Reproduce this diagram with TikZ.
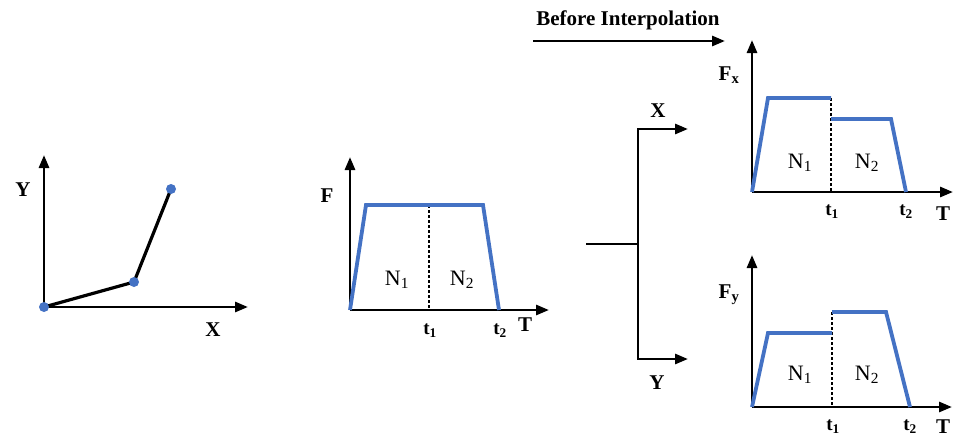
\documentclass[tikz,border=0pt]{standalone}
\usepackage{fontspec}
\setmainfont{Liberation Serif}
\usetikzlibrary{arrows.meta}
\definecolor{curveblue}{RGB}{68,114,196}
\begin{document}
\begin{tikzpicture}[x=1pt,y=-1pt,
  axis/.style={line width=2.8pt,line join=miter,-{Triangle[length=13pt,width=10pt]}},
  plain/.style={line width=2.8pt},
  curve/.style={line width=3.8pt,curveblue,line join=miter},
  lbl/.style={font=\fontsize{21}{23}\selectfont\bfseries,inner sep=0pt},
  nlbl/.style={font=\fontsize{22}{24}\selectfont,inner sep=0pt},
  tlbl/.style={font=\fontsize{19}{21}\selectfont\bfseries,inner sep=0pt},
  ttl/.style={font=\fontsize{21}{23}\selectfont\bfseries,inner sep=0pt},
  dot/.style={circle,fill=curveblue,inner sep=0pt,minimum size=10pt},
  divider/.style={line width=1.3pt,dash pattern=on 3pt off 2pt}]
\useasboundingbox (0,0) rectangle (955,437);

% ---- left plot
\coordinate (o1) at (44,307);
\coordinate (y1) at (44,155);
\coordinate (x1) at (248,307);
\draw[axis] (o1) -- (y1);
\draw[axis] (o1) -- (x1);
\coordinate (p0) at (44,307);
\coordinate (p1) at (134,282);
\coordinate (p2) at (171,189);
\draw[line width=3.2pt] (p0) -- (p1) -- (p2);
\node[dot] (d0) at (p0) {};
\node[dot] (d1) at (p1) {};
\node[dot] (d2) at (p2) {};
\node[lbl] (ly1) at (23,190) {Y};
\node[lbl] (lx1) at (213,330) {X};

% ---- middle plot
\coordinate (o2) at (350,310);
\coordinate (y2) at (350,157);
\coordinate (x2) at (549,310);
\draw[axis] (o2) -- (y2);
\draw[axis] (o2) -- (x2);
\coordinate (m1) at (366,205);
\coordinate (m2) at (483,205);
\coordinate (m3) at (499,310);
\coordinate (mt) at (429,205);
\coordinate (mb) at (429,310);
\draw[divider] (mt) -- (mb);
\draw[curve] (o2) -- (m1) -- (m2) -- (m3);
\node[lbl] (lf2) at (327,196) {F};
\node[nlbl] (n21) at (397,280) {N\textsubscript{1}};
\node[nlbl] (n22) at (462,280) {N\textsubscript{2}};
\node[tlbl] (t21) at (430,331) {t\textsubscript{1}};
\node[tlbl] (t22) at (500,331) {t\textsubscript{2}};
\node[lbl] (lt2) at (525,325) {T};

% ---- title arrow
\node[ttl] (title) at (628,20) {Before Interpolation};
\coordinate (ta) at (533,41);
\coordinate (tb) at (725,41);
\draw[axis] (ta) -- (tb);

% ---- split connector
\coordinate (s0) at (586,244);
\coordinate (s1) at (638,244);
\coordinate (sT) at (638,129);
\coordinate (sB) at (638,359);
\coordinate (xe) at (688,129);
\coordinate (ye) at (688,359);
\draw[plain] (s0) -- (s1);
\draw[axis] (s1) -- (sT) -- (xe);
\draw[axis] (s1) -- (sB) -- (ye);
\node[lbl] (lxs) at (658,111) {X};
\node[lbl] (lys) at (657,383) {Y};

% ---- top-right plot
\coordinate (o3) at (752,192);
\coordinate (y3) at (752,40);
\coordinate (x3) at (953,192);
\draw[axis] (o3) -- (y3);
\draw[axis] (o3) -- (x3);
\coordinate (a1) at (768,98);
\coordinate (a2) at (831,98);
\coordinate (a3) at (831,119);
\coordinate (a4) at (891,119);
\coordinate (a5) at (906,192);
\coordinate (ab) at (831,192);
\draw[divider] (a2) -- (ab);
\draw[curve] (o3) -- (a1) -- (a2);
\draw[curve] (a3) -- (a4) -- (a5);
\node[lbl] (lf3) at (729,75) {F\textsubscript{x}};
\node[nlbl] (n31) at (800,163) {N\textsubscript{1}};
\node[nlbl] (n32) at (867,163) {N\textsubscript{2}};
\node[tlbl] (t31) at (832,212) {t\textsubscript{1}};
\node[tlbl] (t32) at (906,212) {t\textsubscript{2}};
\node[lbl] (lt3) at (943,214) {T};

% ---- bottom-right plot
\coordinate (o4) at (752,407);
\coordinate (y4) at (752,255);
\coordinate (x4) at (952,407);
\draw[axis] (o4) -- (y4);
\draw[axis] (o4) -- (x4);
\coordinate (b1) at (768,333);
\coordinate (b2) at (832,333);
\coordinate (b3) at (832,312);
\coordinate (b4) at (886,312);
\coordinate (b5) at (910,407);
\coordinate (bb) at (832,407);
\draw[divider] (b3) -- (bb);
\draw[curve] (o4) -- (b1) -- (b2);
\draw[curve] (b3) -- (b4) -- (b5);
\node[lbl] (lf4) at (729,295) {F\textsubscript{y}};
\node[nlbl] (n41) at (800,375) {N\textsubscript{1}};
\node[nlbl] (n42) at (867,375) {N\textsubscript{2}};
\node[tlbl] (t41) at (833,427) {t\textsubscript{1}};
\node[tlbl] (t42) at (910,427) {t\textsubscript{2}};
\node[lbl] (lt4) at (943,427) {T};
\end{tikzpicture}
\end{document}
